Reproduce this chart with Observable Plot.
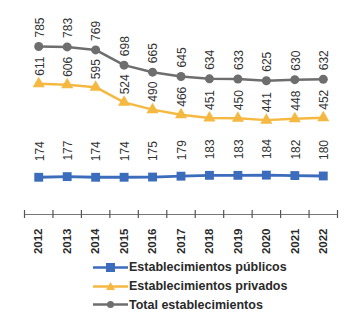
<!DOCTYPE html>
<html><head><meta charset="utf-8">
<script src="https://cdn.jsdelivr.net/npm/d3@7"></script>
<script src="https://cdn.jsdelivr.net/npm/@observablehq/plot@0.6"></script>
<style>
body{margin:0;background:#fff;font-family:"Liberation Sans",Arial,sans-serif;}
#legend{position:absolute;left:93px;top:258px;}
.item{display:flex;align-items:center;height:18.7px;font-size:12.5px;font-weight:bold;color:#2a2a2a;}
.item svg{margin-right:1px;}
</style></head><body>
<div id="chart"></div>
<div id="legend"></div>
<script>
const years = [2012,2013,2014,2015,2016,2017,2018,2019,2020,2021,2022];
const publicos = [174,177,174,174,175,179,183,183,184,182,180];
const privados = [611,606,595,524,490,466,451,450,441,448,452];
const total = [785,783,769,698,665,645,634,633,625,630,632];
const seriesNames = ["Establecimientos públicos","Establecimientos privados","Total establecimientos"];
const colors = ["#3c6cbc","#f5b942","#6e6e6e"];

const rows = (vals) => years.map((y,i)=>({year:y, v:vals[i]}));
const dPub = rows(publicos), dPriv = rows(privados), dTot = rows(total);
const bounds = years.map(y=>y-0.5).concat([years[years.length-1]+0.5]);

const chart = Plot.plot({
  width:361, height:258,
  marginLeft:24, marginRight:24, marginTop:0, marginBottom:44,
  x:{domain:[years[0]-0.5, years[years.length-1]+0.5]},
  y:{domain:[0,1000], axis:null},
  style:{fontFamily:"Liberation Sans, Arial, sans-serif", color:"#2a2a2a", background:"white"},
  marks:[
    Plot.ruleY([0],{x1:bounds[0], x2:bounds[bounds.length-1], stroke:"#777", strokeWidth:1}),
    Plot.axisX({ticks:bounds, tickSize:8, tickFormat:()=>"", dy:-4, stroke:"#555", strokeWidth:1.2, label:null}),
    Plot.axisX({ticks:years, tickSize:0, tickPadding:14, tickRotate:-90, label:null, fontSize:11.5, fontWeight:"bold", tickFormat:d=>String(d)}),
    Plot.line(dTot,{x:"year", y:"v", stroke:colors[2], strokeWidth:2.5}),
    Plot.dot(dTot,{x:"year", y:"v", r:4.5, fill:colors[2], symbol:"circle"}),
    Plot.line(dPriv,{x:"year", y:"v", stroke:colors[1], strokeWidth:2.5}),
    Plot.dot(dPriv,{x:"year", y:"v", r:4.5, fill:colors[1], symbol:"triangle"}),
    Plot.line(dPub,{x:"year", y:"v", stroke:colors[0], strokeWidth:2.8}),
    Plot.dot(dPub,{x:"year", y:"v", r:5, fill:colors[0], symbol:"square"}),
    Plot.text(dTot,{x:"year", y:"v", text:d=>String(d.v), rotate:-90, textAnchor:"start", lineAnchor:"middle", dy:-9, dx:1, fontSize:12, fill:"#333"}),
    Plot.text(dPriv,{x:"year", y:"v", text:d=>String(d.v), rotate:-90, textAnchor:"start", lineAnchor:"middle", dy:-8, dx:1, fontSize:12, fill:"#333"}),
    Plot.text(dPub,{x:"year", y:"v", text:d=>String(d.v), rotate:-90, textAnchor:"start", lineAnchor:"middle", dy:-16, dx:1, fontSize:12, fill:"#333"})
  ]
});
document.getElementById("chart").appendChild(chart);

const legend = document.getElementById("legend");
const markers = [
  `<rect x="13" y="5" width="9" height="9" fill="${colors[0]}"/>`,
  `<path d="M17.5,5 L22,13 L13,13 Z" fill="${colors[1]}"/>`,
  `<circle cx="17.5" cy="9.5" r="3.5" fill="${colors[2]}"/>`
];
seriesNames.forEach((name,i)=>{
  const div = document.createElement("div");
  div.className="item";
  div.innerHTML = `<svg width="35" height="19"><line x1="0" x2="35" y1="9.5" y2="9.5" stroke="${colors[i]}" stroke-width="2.5"/>${markers[i]}</svg><span>${name}</span>`;
  legend.appendChild(div);
});
</script>
</body></html>
